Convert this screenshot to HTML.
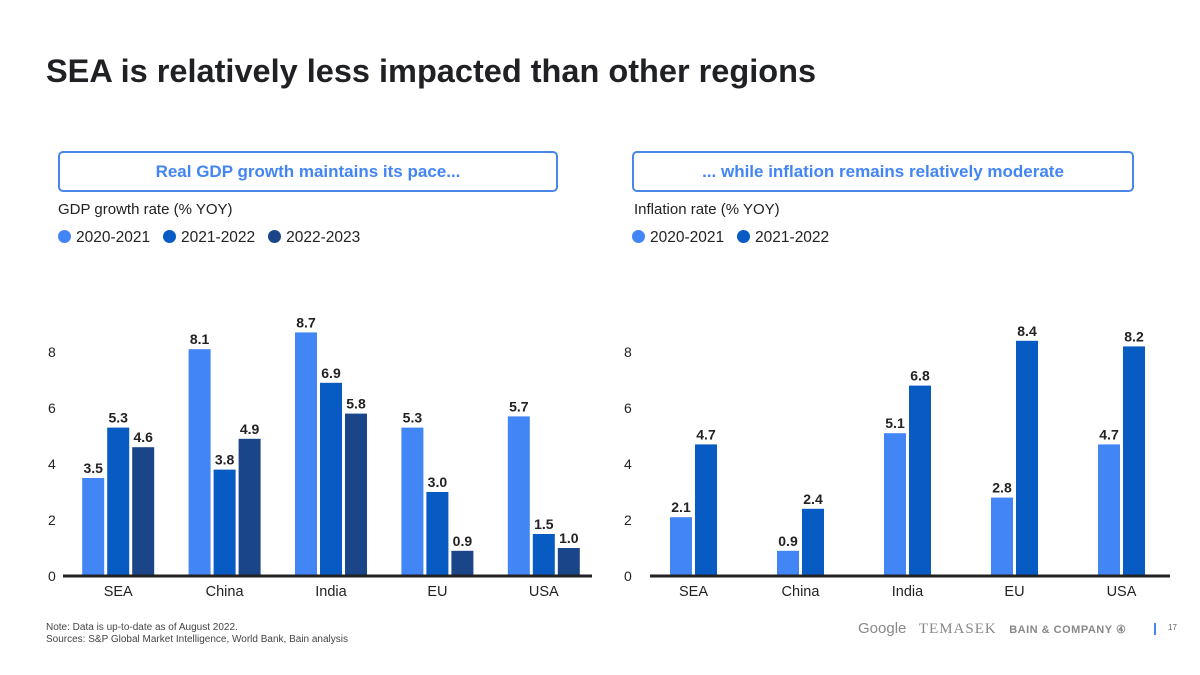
<!DOCTYPE html>
<html><head><meta charset="utf-8"><style>
body{margin:0;width:1200px;height:675px;background:#fff;font-family:"Liberation Sans",sans-serif;position:relative;overflow:hidden;color:#222}
.t{position:absolute;white-space:nowrap}
.box{position:absolute;border:2px solid #4a86e8;border-radius:5px;color:#4285F4;font-weight:bold;font-size:17px;text-align:center;line-height:37px;height:37px}
.dot{display:inline-block;width:13px;height:13px;border-radius:50%;vertical-align:-1px;margin-right:5px}
</style></head><body>
<div class="t" style="left:46px;top:53px;font-size:32.5px;font-weight:bold;color:#202124">SEA is relatively less impacted than other regions</div>
<div class="box" style="left:58px;top:151px;width:496px">Real GDP growth maintains its pace...</div>
<div class="box" style="left:632px;top:151px;width:498px">... while inflation remains relatively moderate</div>
<div class="t" style="left:58px;top:201px;font-size:15px">GDP growth rate (% YOY)</div>
<div class="t" style="left:634px;top:201px;font-size:15px">Inflation rate (% YOY)</div>
<div class="t" style="left:58px;top:229px;font-size:15.5px">
<span><span class="dot" style="background:#4285F4"></span>2020-2021</span>&nbsp;&nbsp;
<span><span class="dot" style="background:#085BC2"></span>2021-2022</span>&nbsp;&nbsp;
<span><span class="dot" style="background:#1A4588"></span>2022-2023</span></div>
<div class="t" style="left:632px;top:229px;font-size:15.5px">
<span><span class="dot" style="background:#4285F4"></span>2020-2021</span>&nbsp;&nbsp;
<span><span class="dot" style="background:#085BC2"></span>2021-2022</span></div>
<svg id="c" width="1200" height="675" style="position:absolute;left:0;top:0"></svg>
<div class="t" style="left:46px;top:622px;font-size:10px;color:#444;line-height:12px">Note: Data is up-to-date as of August 2022.<br>Sources: S&amp;P Global Market Intelligence, World Bank, Bain analysis</div>
<div class="t" style="left:858px;top:620px;font-size:15px;color:#888">Google&nbsp;&nbsp;&nbsp;<span style="font-family:'Liberation Serif',serif;letter-spacing:1px">TEMASEK</span>&nbsp;&nbsp;&nbsp;<span style="font-size:11px;font-weight:bold;letter-spacing:0.5px">BAIN &amp; COMPANY ④</span></div>
<div style="position:absolute;left:1154px;top:623px;width:2px;height:12px;background:#4285F4"></div>
<div class="t" style="left:1168px;top:623px;font-size:8px;color:#666">17</div>
<script>
const categories=["SEA","China","India","EU","USA"];
const gdp2021=[3.5,8.1,8.7,5.3,5.7];
const gdp2022=[5.3,3.8,6.9,3.0,1.5];
const gdp2023=[4.6,4.9,5.8,0.9,1.0];
const inf2021=[2.1,0.9,5.1,2.8,4.7];
const inf2022=[4.7,2.4,6.8,8.4,8.2];
const yTicks=[0,2,4,6,8];
const colors=["#4285F4","#085BC2","#1A4588"];
const svg=document.getElementById('c');
const NS="http://www.w3.org/2000/svg";
function mk(tag,a){const e=document.createElementNS(NS,tag);for(const k in a)e.setAttribute(k,a[k]);svg.appendChild(e);return e;}
const y0=576,pxu=28;
const yScale=v=>y0-v*pxu;
function chart(x0,x1,series,axisX,ax0){
  const band=(x1-x0)/categories.length,bw=22,gap=3;
  yTicks.forEach(t=>{const e=mk('text',{x:axisX,y:yScale(t)+5,'font-size':14,fill:'#222'});e.textContent=t;
    
    });
  categories.forEach((c,i)=>{
    const cx=x0+band*(i+0.5),n=series.length,tw=n*bw+(n-1)*gap;
    series.forEach((s,j)=>{
      const x=cx-tw/2+j*(bw+gap),v=s[i];
      const r=mk('rect',{x:x,y:yScale(v),width:bw,height:v*pxu,fill:colors[j]});
      
      
      const l=mk('text',{x:x+bw/2,y:yScale(v)-5,'font-size':14,'font-weight':'bold','text-anchor':'middle',fill:'#222'});
      l.textContent=v.toFixed(1);
      
      
    });
    const t=mk('text',{x:cx,y:596,'font-size':14.5,'text-anchor':'middle',fill:'#222'});t.textContent=c;
    
    
  });
  const a=mk('line',{x1:ax0,x2:x1-5,y1:y0,y2:y0,stroke:'#222','stroke-width':3});
  
  
}
chart(65,597,[gdp2021,gdp2022,gdp2023],48,63);
chart(640,1175,[inf2021,inf2022],624,650);
</script>
</body></html>
